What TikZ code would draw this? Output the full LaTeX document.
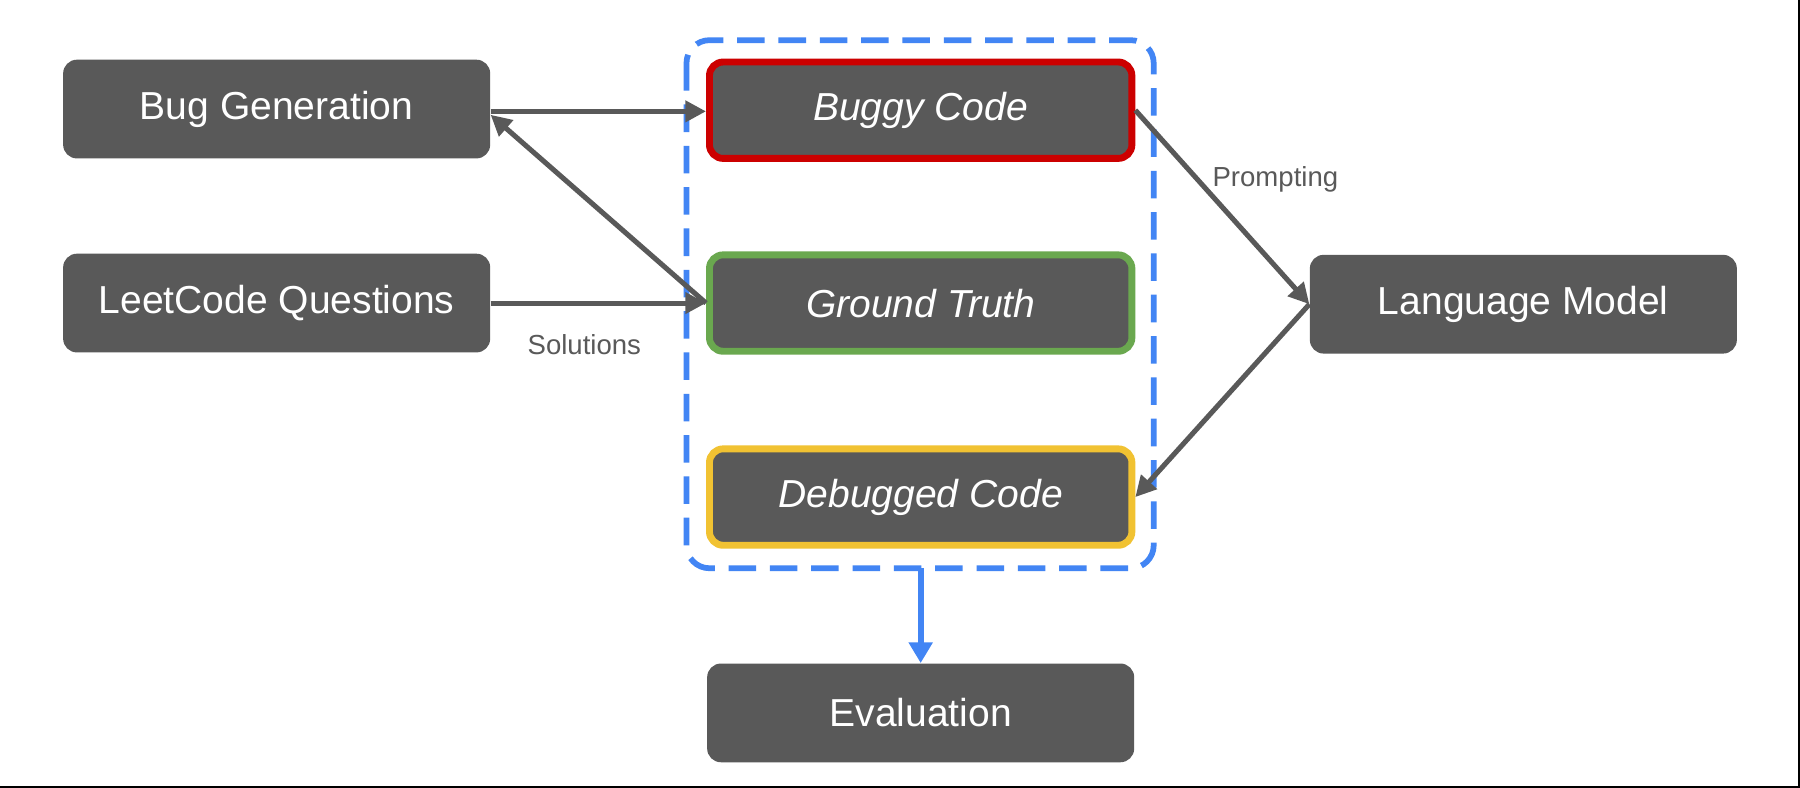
\documentclass[tikz,border=0pt]{standalone}
\usepackage{fontspec}
\setmainfont{Liberation Sans}
\usetikzlibrary{arrows.meta}
\definecolor{boxg}{HTML}{595959}
\definecolor{rd}{HTML}{CC0000}
\definecolor{gr}{HTML}{6AA84F}
\definecolor{yl}{HTML}{F1C232}
\definecolor{bl}{HTML}{4285F4}
\begin{document}
\begin{tikzpicture}[x=0.5pt,y=-0.5pt,
  box/.style={fill=boxg,rounded corners=6pt,minimum width=186pt,minimum height=43pt,text=white,font=\fontsize{17}{20}\selectfont,inner sep=0pt},
  ibox/.style={box,line width=3pt,minimum width=184pt,minimum height=42pt,font=\fontsize{17}{20}\selectfont\itshape},
  arr/.style={draw=boxg,line width=2.2pt,-{Triangle[length=9pt,width=9pt]}},
  lab/.style={text=boxg,font=\fontsize{12}{14}\selectfont}]
\useasboundingbox (0,0) rectangle (1568,686);
\fill[white] (0,0) rectangle (1568,686);
\draw[black,line width=1pt] (1567.5,0) -- (1567.5,685.5) -- (0,685.5);
\node[box] (bug) at (241,95) {Bug Generation};
\node[box] (leet) at (241,264) {LeetCode Questions};
\node[ibox,draw=rd] (buggy) at (802,96) {Buggy Code};
\node[ibox,draw=gr] (gt) at (802,264) {Ground Truth};
\node[ibox,draw=yl] (dbg) at (802,433) {Debugged Code};
\node[box] (lm) at (1327,265) {Language Model};
\node[box] (eval) at (802,621) {Evaluation};
\draw[bl,line width=2.5pt,dash pattern=on 12pt off 6pt,rounded corners=10pt] (598,35) rectangle (1005,495);
\coordinate (boxb) at (802,495);
\draw[arr] (bug.east |- 0,97) -- (buggy.west |- 0,97);
\draw[arr] (gt.west) -- (bug.east |- 0,100);
\draw[arr] (leet.east) -- (gt.west);
\node[lab] at (509,300) {Solutions};
\draw[arr] (buggy.east) -- (lm.west);
\node[lab] at (1111,156) {Prompting};
\draw[arr] (lm.west) -- (dbg.east);
\draw[draw=bl,line width=2.5pt,-{Triangle[length=9pt,width=10pt]}] (boxb) -- (eval.north);
\end{tikzpicture}
\end{document}
